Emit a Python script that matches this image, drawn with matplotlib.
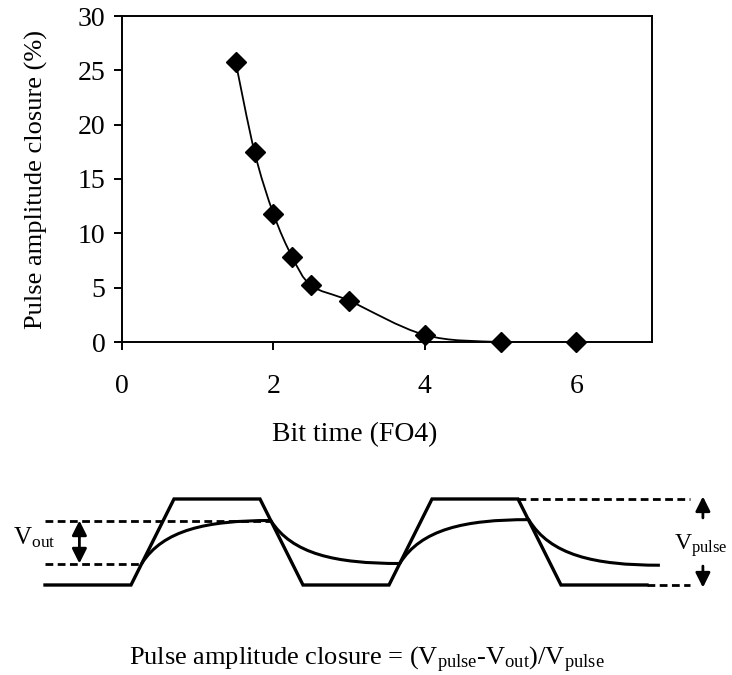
import matplotlib
matplotlib.use('Agg')
import matplotlib.pyplot as plt
from matplotlib.path import Path
from matplotlib.patches import PathPatch

plt.rcParams['font.family'] = 'Liberation Serif'
plt.rcParams['mathtext.fontset'] = 'custom'
plt.rcParams['mathtext.rm'] = 'Liberation Serif'
plt.rcParams['mathtext.it'] = 'Liberation Serif:italic'

# top chart data
bit_time = [1.5, 1.75, 2.0, 2.25, 2.5, 3.0, 4.0, 5.0, 6.0]
closure = [25.8, 17.5, 11.8, 7.8, 5.2, 3.8, 0.65, 0.0, 0.0]
x_ticks = [0, 2, 4, 6]
y_ticks = [0, 5, 10, 15, 20, 25, 30]

# sketch of the pulse (time in edge units, voltage normalised to V_pulse)
pulse_t = [-2, 0, 1, 3, 4, 6, 7, 9, 10, 12]
pulse_v = [0, 0, 1, 1, 0, 0, 1, 1, 0, 0]
resp_t = [0.25, 3.25, 6.25, 9.25, 12.3]
resp_v = [0.25, 0.75, 0.25, 0.76, 0.23]
vout_lo, vout_hi = 0.25, 0.75


def smooth_path(xs, ys):
    # excel style smoothed line: catmull-rom handles, drawn as bezier
    pts = list(zip(xs, ys))
    n = len(pts)
    verts = [pts[0]]
    codes = [Path.MOVETO]
    for i in range(n - 1):
        p0 = pts[max(i - 1, 0)]
        p1 = pts[i]
        p2 = pts[i + 1]
        p3 = pts[min(i + 2, n - 1)]
        c1 = (p1[0] + (p2[0] - p0[0]) / 6, p1[1] + (p2[1] - p0[1]) / 6)
        c2 = (p2[0] - (p3[0] - p1[0]) / 6, p2[1] - (p3[1] - p1[1]) / 6)
        verts += [c1, c2, p2]
        codes += [Path.CURVE4] * 3
    return Path(verts, codes)


def rc_path(ts, vs):
    # charge / discharge curves between the crossing points
    verts = [(ts[0], vs[0])]
    codes = [Path.MOVETO]
    for i in range(len(ts) - 1):
        t0, v0, t1, v1 = ts[i], vs[i], ts[i + 1], vs[i + 1]
        dv = v1 - v0
        c1 = (t0 + 0.5, v0 + 0.78 * dv)
        c2 = (t0 + 1.5 * (t1 - t0) / 3, v1)
        verts += [c1, c2, (t1, v1)]
        codes += [Path.CURVE4] * 3
    return Path(verts, codes)


fig = plt.figure(figsize=(7.32, 6.75), dpi=100)

ax = fig.add_axes([122 / 732, 1 - 342 / 675, 530 / 732, 326 / 675])
ax.add_patch(PathPatch(smooth_path(bit_time, closure), fill=False,
                       ec='black', lw=1.3, zorder=2))
ax.plot(bit_time, closure, 'D', color='black', ms=10, zorder=3, clip_on=False)
ax.set_xlim(0, 7)
ax.set_ylim(0, 30)
ax.set_xticks(x_ticks)
ax.set_yticks(y_ticks)
for s in ax.spines.values():
    s.set_linewidth(1.4)
ax.tick_params(direction='out', length=6, width=1.4, labelsize=20)
ax.tick_params(axis='x', pad=17)
ax.tick_params(axis='y', pad=6)

fig.text(36 / 732, 1 - 180 / 675, 'Pulse amplitude closure (%)', rotation=90,
         ha='center', va='center', fontsize=19)
fig.text(355 / 732, 1 - 435 / 675, 'Bit time (FO4)', ha='center', va='center',
         fontsize=20)

# bottom sketch
ax2 = fig.add_axes([0, 0, 1, 205 / 675])
ax2.set_xlim(-131 / 43, (732 - 131) / 43)
ax2.set_ylim((585 - 675) / 86, (585 - 470) / 86)
ax2.axis('off')

dash = (0, (2.8, 1.6))
ax2.plot(pulse_t, pulse_v, color='black', lw=2.4, solid_joinstyle='miter')
ax2.add_patch(PathPatch(rc_path(resp_t, resp_v), fill=False, ec='black', lw=2.2))
ax2.plot([-2, resp_t[1]], [vout_hi, vout_hi], color='black', lw=2, ls=dash)
ax2.plot([-2, resp_t[0]], [vout_lo, vout_lo], color='black', lw=2, ls=dash)
ax2.plot([pulse_t[-3], 13], [1, 1], color='black', lw=2, ls=dash)
ax2.plot([pulse_t[-1], 13], [0, 0], color='black', lw=2, ls=dash)

arr = dict(color='black', lw=2, shrinkA=0, shrinkB=0, mutation_scale=22)
ax2.annotate('', xy=(-1.2, vout_hi), xytext=(-1.2, vout_lo),
             arrowprops=dict(arrowstyle='<|-|>', **arr))
ax2.annotate('', xy=(13.3, 1.03), xytext=(13.3, 0.78),
             arrowprops=dict(arrowstyle='-|>', **arr))
ax2.annotate('', xy=(13.3, -0.03), xytext=(13.3, 0.22),
             arrowprops=dict(arrowstyle='-|>', **arr))

ax2.text(-2.74, 0.477, r'V$_{\rm out}$', ha='left', va='baseline', fontsize=18)
ax2.text(12.62, 0.41, r'V$_{\rm pulse}$', ha='left', va='baseline', fontsize=17)

fig.text(367 / 732, 1 - 665 / 675,
         r'Pulse amplitude closure = (V$_{\rm pulse}$-V$_{\rm out}$)/V$_{\rm pulse}$',
         ha='center', va='baseline', fontsize=19)

fig.savefig('out.png', dpi=100)
